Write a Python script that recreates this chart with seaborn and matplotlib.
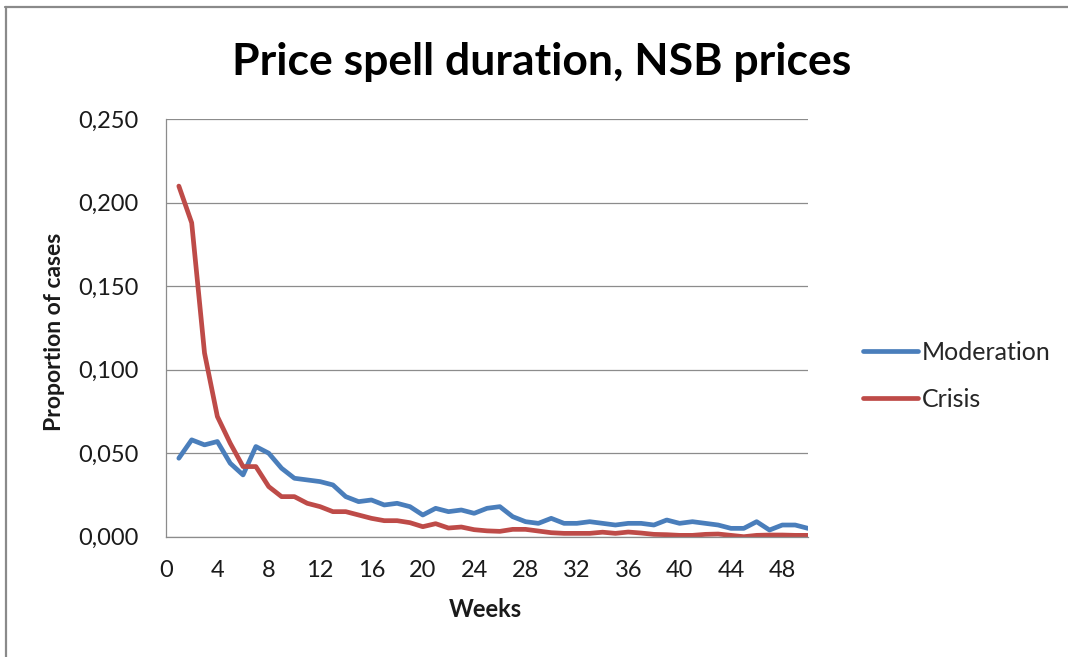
import numpy as np
import pandas as pd
import matplotlib
matplotlib.use("Agg")
import matplotlib.pyplot as plt
from matplotlib.lines import Line2D
from matplotlib.ticker import FuncFormatter, MultipleLocator
import seaborn as sns

# ---- data ----
weeks = list(range(1, 51))
moderation = [0.047, 0.058, 0.055, 0.057, 0.044, 0.037, 0.054, 0.050, 0.041, 0.035,
              0.034, 0.033, 0.031, 0.024, 0.021, 0.022, 0.019, 0.020, 0.018, 0.013,
              0.017, 0.015, 0.016, 0.014, 0.017, 0.018, 0.012, 0.009, 0.008, 0.011,
              0.008, 0.008, 0.009, 0.008, 0.007, 0.008, 0.008, 0.007, 0.010, 0.008,
              0.009, 0.008, 0.007, 0.005, 0.005, 0.009, 0.004, 0.007, 0.007, 0.005]
crisis = [0.210, 0.188, 0.110, 0.072, 0.056, 0.042, 0.042, 0.030, 0.024, 0.024,
          0.020, 0.018, 0.015, 0.015, 0.013, 0.011, 0.0096, 0.0096, 0.0084, 0.006,
          0.0078, 0.0052, 0.0058, 0.0042, 0.0035, 0.0032, 0.0044, 0.0044, 0.0034, 0.0024,
          0.002, 0.002, 0.002, 0.0027, 0.002, 0.0028, 0.0022, 0.0014, 0.0012, 0.0008,
          0.0008, 0.0014, 0.0016, 0.0008, 0.0, 0.0008, 0.001, 0.001, 0.0008, 0.0008]
series_names = ["Moderation", "Crisis"]
series_colors = ["#4A7EBB", "#BE4B48"]
title = "Price spell duration, NSB prices"
xlabel = "Weeks"
ylabel = "Proportion of cases"

df = pd.concat([
    pd.DataFrame({"week": weeks, "value": moderation, "series": series_names[0]}),
    pd.DataFrame({"week": weeks, "value": crisis, "series": series_names[1]}),
], ignore_index=True)

sns.set_theme(style="white")
plt.rcParams["font.family"] = ["Lato", "DejaVu Sans"]

fig = plt.figure(figsize=(10.68, 6.57), dpi=100)
fig.patch.set_facecolor("white")
ax = fig.add_axes([166 / 1068, 1 - 536.7 / 657, (808 - 166) / 1068, (536.7 - 119.3) / 657])

sns.lineplot(data=df, x="week", y="value", hue="series", hue_order=series_names,
             palette=series_colors, linewidth=3.4, ax=ax, legend=True)

ax.set_xlim(0, 50)
ax.set_ylim(0, 0.25)
ax.xaxis.set_major_locator(MultipleLocator(4))
ax.yaxis.set_major_locator(MultipleLocator(0.05))
ax.yaxis.set_major_formatter(FuncFormatter(lambda v, p: f"{v:.3f}".replace(".", ",")))

grid_c = "#8C8C8C"
ax.grid(axis="y", color=grid_c, linewidth=0.9)
ax.grid(axis="x", visible=False)
for s in ["top", "right"]:
    ax.spines[s].set_visible(False)
for s in ["left", "bottom"]:
    ax.spines[s].set_color(grid_c)
    ax.spines[s].set_linewidth(0.9)

ax.tick_params(axis="x", length=0, pad=17, labelsize=17, labelcolor="#1a1a1a")
ax.tick_params(axis="y", length=0, pad=20, labelsize=17, labelcolor="#1a1a1a")

ax.set_xlabel(xlabel, fontsize=17, fontweight="bold", color="#1a1a1a")
ax.set_ylabel(ylabel, fontsize=16.5, fontweight="bold", color="#1a1a1a")
ax.xaxis.set_label_coords(0.498, -0.146)
ax.yaxis.set_label_coords(-0.158, 0.49)

fig.text(542 / 1068, 1 - 75 / 657, title, ha="center", va="baseline",
         fontsize=32, fontweight="bold", color="black")

handles, labels = ax.get_legend_handles_labels()
ax.legend(handles=handles, labels=labels, loc="center left",
          bbox_to_anchor=(863 / 1068, 1 - 376 / 657), bbox_transform=fig.transFigure,
          frameon=False, fontsize=18, handlelength=2.2, handletextpad=0.15,
          labelspacing=0.95, borderpad=0, borderaxespad=0)

# outer chart border (partially cropped in reference)
fig.add_artist(Line2D([5 / 1068, 1], [1 - 7 / 657, 1 - 7 / 657], transform=fig.transFigure,
                      color="#8A8A8A", linewidth=1.6))
fig.add_artist(Line2D([6 / 1068, 6 / 1068], [0, 1 - 7 / 657], transform=fig.transFigure,
                      color="#8A8A8A", linewidth=1.6))

fig.savefig("out.png", dpi=100, facecolor="white")
